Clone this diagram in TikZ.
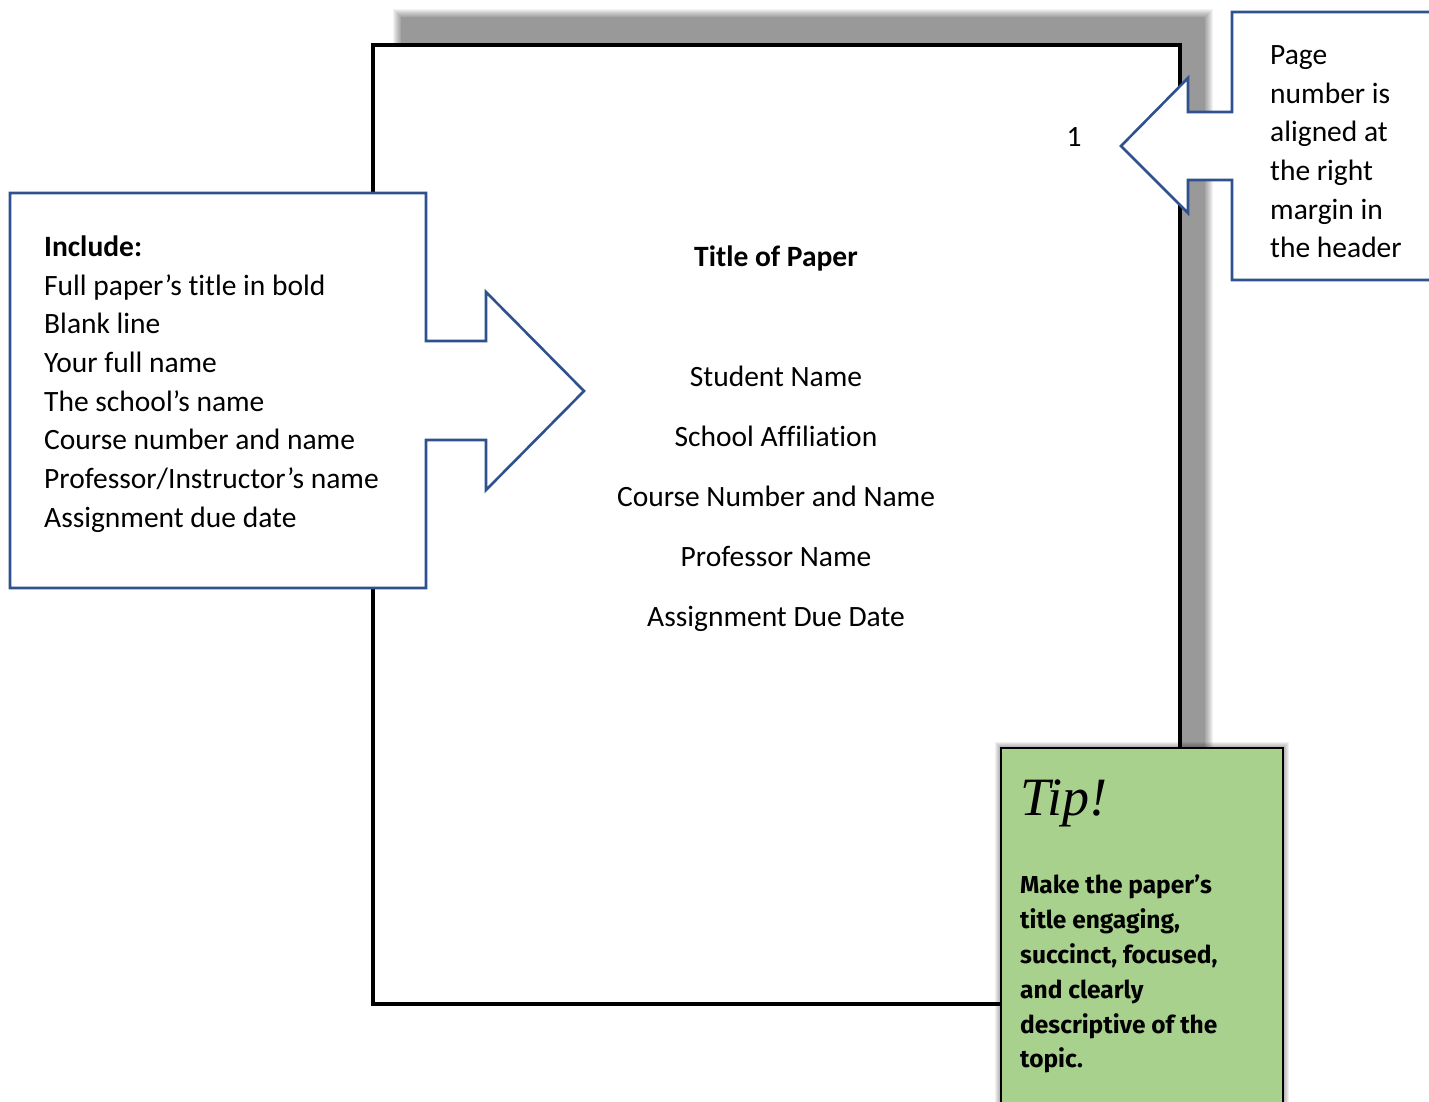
\documentclass[tikz,border=0pt]{standalone}
\usepackage{fontspec}
\setmainfont{Carlito}[Ligatures={NoCommon}]
\newfontfamily\tipfont{Fira Sans}
\newfontfamily\handfont{Liberation Serif}
\definecolor{calblue}{HTML}{2F528F}
\definecolor{shadowgray}{HTML}{999999}
\definecolor{tipgreen}{HTML}{A9D18E}
\begin{document}
\begin{tikzpicture}[x=1pt,y=-1pt,
  calloutline/.style={draw=calblue, line width=2.6pt, fill=white, line join=miter},
  txt/.style={font=\fontsize{29.5}{35}\selectfont, inner sep=0pt},
  leftline/.style={txt, anchor=base west},
  pageline/.style={txt, anchor=base},
  tipline/.style={font=\tipfont\bfseries\fontsize{24.5}{30}\selectfont, inner sep=0pt, anchor=base west}]
\useasboundingbox (0,0) rectangle (1429,1101);
% page shadow
\foreach \k in {1,...,8} {\fill[black, opacity=0.05] ({401-\k},{17-\k}) rectangle ({1205+\k},{975+\k});}
\fill[shadowgray] (401,17) rectangle (1205,975);
% page
\draw[line width=4pt, fill=white] (372.5,45) rectangle (1180,1004);
\node[pageline] (pnum) at (1074,146) {1};
\node[pageline, font=\fontsize{29.5}{35}\selectfont\bfseries] (title) at (776,266) {Title of Paper};
\node[pageline] (stud) at (776,386) {Student Name};
\node[pageline] (school) at (776,446) {School Affiliation};
\node[pageline] (course) at (776,506) {Course Number and Name};
\node[pageline] (prof) at (776,566) {Professor Name};
\node[pageline] (due) at (776,626) {Assignment Due Date};
% left callout
\draw[calloutline] (10,193) -- (426,193) -- (426,341) -- (486,341) -- (486,292) -- (584,391)
  -- (486,490) -- (486,440) -- (426,440) -- (426,588) -- (10,588) -- cycle;
\node[leftline, font=\fontsize{29.5}{35}\selectfont\bfseries] (l0) at (44,256) {Include:};
\node[leftline] (l1) at (44,295) {Full paper’s title in bold};
\node[leftline] (l2) at (44,333.5) {Blank line};
\node[leftline] (l3) at (44,372) {Your full name};
\node[leftline] (l4) at (44,411) {The school’s name};
\node[leftline] (l5) at (44,449.5) {Course number and name};
\node[leftline] (l6) at (44,488) {Professor/Instructor’s name};
\node[leftline] (l7) at (44,527) {Assignment due date};
% right callout
\draw[calloutline] (1440,12) -- (1232,12) -- (1232,112) -- (1188,112) -- (1188,78) -- (1121,146)
  -- (1188,213) -- (1188,180) -- (1232,180) -- (1232,280) -- (1440,280);
\node[leftline] (r1) at (1270,64) {Page};
\node[leftline] (r2) at (1270,103) {number is};
\node[leftline] (r3) at (1270,141.5) {aligned at};
\node[leftline] (r4) at (1270,180) {the right};
\node[leftline] (r5) at (1270,219) {margin in};
\node[leftline] (r6) at (1270,257.5) {the header};
% tip box
\foreach \k in {1,...,6} {\fill[black, opacity=0.06] ({1001-\k},{748-\k}) rectangle ({1283+\k},1110);}
\draw[line width=2pt, fill=tipgreen] (1001,748) rectangle (1283,1115);
\node[inner sep=0pt, anchor=base west, font=\handfont\itshape\fontsize{54}{60}\selectfont] (tip) at (1020,815) {Tip!};
\node[tipline] (t1) at (1020,893) {Make the paper’s};
\node[tipline] (t2) at (1020,928) {title engaging,};
\node[tipline] (t3) at (1020,963) {succinct, focused,};
\node[tipline] (t4) at (1020,998) {and clearly};
\node[tipline] (t5) at (1020,1033) {descriptive of the};
\node[tipline] (t6) at (1020,1067) {topic.};
\end{tikzpicture}
\end{document}
